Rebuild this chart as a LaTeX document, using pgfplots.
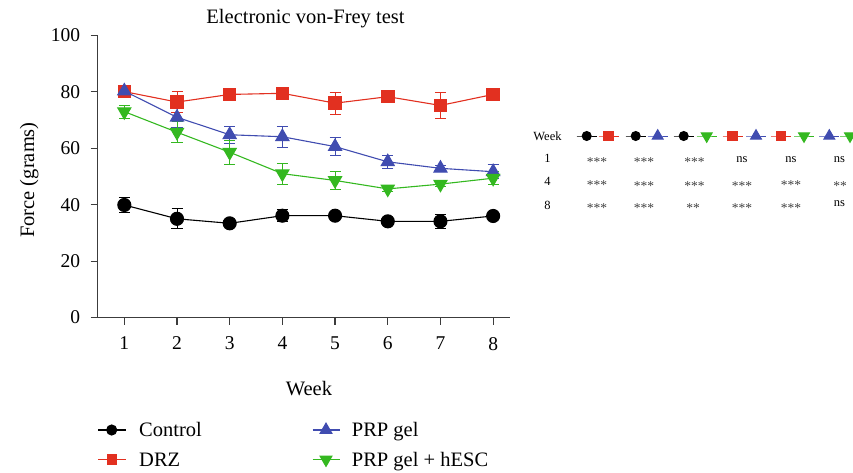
\documentclass[border=0pt]{standalone}
\usepackage{pgfplots}
\pgfplotsset{compat=1.18}
\usepackage{pgfplotstable}
\usepackage{fontspec}
\setmainfont{Liberation Serif}

\definecolor{cRed}{RGB}{226,48,32}
\definecolor{cBlue}{RGB}{64,76,176}
\definecolor{cGreen}{RGB}{52,184,32}
\definecolor{cAxis}{RGB}{60,60,60}

\pgfplotstableread{
x y e
1 39.9 2.5
2 35.0 3.6
3 33.4 0.8
4 36.1 2.2
5 36.1 1.0
6 34.1 0.8
7 34.1 2.4
8 36.0 1.0
}\ctrl
\pgfplotstableread{
x y e
1 80.1 1.0
2 76.4 3.6
3 79.1 1.0
4 79.5 1.0
5 76.0 3.9
6 78.3 1.0
7 75.2 4.6
8 79.1 1.0
}\drz
\pgfplotstableread{
x y e
1 80.3 1.0
2 71.0 3.8
3 64.8 3.0
4 64.1 3.7
5 60.6 3.2
6 55.2 2.4
7 52.9 1.0
8 51.7 2.5
}\prp
\pgfplotstableread{
x y e
1 73.0 2.3
2 65.7 3.8
3 58.6 4.3
4 51.0 3.7
5 48.6 3.1
6 45.6 1.0
7 47.3 1.0
8 49.4 2.4
}\hesc

\pgfplotsset{
  ser/.style={line width=1.1pt, error bars/.cd, y dir=both, y explicit,
    error bar style={line width=1pt},
    error mark options={rotate=90, mark size=5.5pt, line width=1pt}, /pgfplots/.cd},
}
\newcommand{\tf}{\fontsize{12.5}{14}\selectfont}
\newcommand{\st}[1]{\raisebox{-3.5pt}{\fontsize{13.5}{14}\selectfont #1}}

\begin{document}
\begin{tikzpicture}
\useasboundingbox (0,0) rectangle (853pt,472pt);
% overlay axis: labels, legend and comparison table
\begin{axis}[at={(0pt,0pt)}, anchor=south west, scale only axis,
  width=853pt, height=472pt, xmin=0, xmax=853, ymin=0, ymax=472,
  y dir=reverse, hide axis, clip=false]
  % titles
  \node[anchor=base, inner sep=0pt, font=\fontsize{20.5}{22}\selectfont] at (axis cs:305.5,23) {Electronic von-Frey test};
  \node[anchor=base, inner sep=0pt, font=\fontsize{20.5}{22}\selectfont] at (axis cs:309,395) {Week};
  \node[anchor=base, inner sep=0pt, rotate=90, font=\fontsize{20.5}{22}\selectfont] at (axis cs:34,180) {Force (grams)};
  % legend
  \addplot[black, line width=1.1pt, mark=*, mark size=5pt, mark indices={2}] coordinates {(98,430)(111.7,430)(126,430)};
  \addplot[cRed, line width=1.1pt, mark=square*, mark size=4.6pt, mark indices={2}] coordinates {(98,459.5)(111.7,459.5)(126,459.5)};
  \addplot[cBlue, line width=1.1pt, mark=triangle*, mark size=6.8pt, mark indices={2}] coordinates {(312.7,430)(326,430)(340,430)};
  \addplot[cGreen, line width=1.1pt, mark=triangle*, mark size=6.8pt, mark options={rotate=180}, mark indices={2}] coordinates {(312.7,459.5)(326,459.5)(340,459.5)};
  \node[anchor=base west, inner sep=0pt, font=\fontsize{20.5}{22}\selectfont] at (axis cs:139,436.7) {Control};
  \node[anchor=base west, inner sep=0pt, font=\fontsize{20.5}{22}\selectfont] at (axis cs:139,466.7) {DRZ};
  \node[anchor=base west, inner sep=0pt, font=\fontsize{20.5}{22}\selectfont] at (axis cs:351.7,436.7) {PRP gel};
  \node[anchor=base west, inner sep=0pt, font=\fontsize{20.5}{22}\selectfont] at (axis cs:351.7,466.7) {PRP gel + hESC};
  % table header
  \node[anchor=base, inner sep=0pt, font=\tf] at (axis cs:547.5,140) {Week};
  \addplot[black, line width=1pt, mark=*, mark size=4.5pt, mark indices={2}] coordinates {(576.7,136)(586.7,136)(596.7,136)};
  \addplot[cRed, line width=1pt, mark=square*, mark size=4.8pt, mark indices={2}] coordinates {(598.7,136)(608.7,136)(618.7,136)};
  \addplot[black, line width=1pt, mark=*, mark size=4.5pt, mark indices={2}] coordinates {(625.7,136)(635.7,136)(645.7,136)};
  \addplot[cBlue, line width=1pt, mark=triangle*, mark size=6.3pt, mark indices={2}] coordinates {(647.7,136)(657.7,136)(667.7,136)};
  \addplot[black, line width=1pt, mark=*, mark size=4.5pt, mark indices={2}] coordinates {(673.7,136)(683.7,136)(693.7,136)};
  \addplot[cGreen, line width=1pt, mark=triangle*, mark size=6.3pt, mark options={rotate=180}, mark indices={2}] coordinates {(696.7,136)(706.7,136)(716.7,136)};
  \addplot[cRed, line width=1pt, mark=square*, mark size=4.8pt, mark indices={2}] coordinates {(722.7,136)(732.7,136)(742.7,136)};
  \addplot[cBlue, line width=1pt, mark=triangle*, mark size=6.3pt, mark indices={2}] coordinates {(746,136)(756,136)(766,136)};
  \addplot[cRed, line width=1pt, mark=square*, mark size=4.8pt, mark indices={2}] coordinates {(771,136)(781,136)(791,136)};
  \addplot[cGreen, line width=1pt, mark=triangle*, mark size=6.3pt, mark options={rotate=180}, mark indices={2}] coordinates {(794,136)(804,136)(814,136)};
  \addplot[cBlue, line width=1pt, mark=triangle*, mark size=6.3pt, mark indices={2}] coordinates {(819.3,136)(829.3,136)(839.3,136)};
  \addplot[cGreen, line width=1pt, mark=triangle*, mark size=6.3pt, mark options={rotate=180}, mark indices={2}] coordinates {(840,136)(850,136)(860,136)};
  % table rows
  \node[anchor=base, inner sep=0pt, font=\tf] at (axis cs:547.5,162.7) {1};
  \node[anchor=base, inner sep=0pt, font=\tf] at (axis cs:547.5,185.7) {4};
  \node[anchor=base, inner sep=0pt, font=\tf] at (axis cs:547.5,209) {8};
  % row 1
  \node[anchor=base, inner sep=0pt, font=\tf, text=black!75] at (axis cs:597,162.7) {\st{***}};
  \node[anchor=base, inner sep=0pt, font=\tf, text=black!75] at (axis cs:644,162.7) {\st{***}};
  \node[anchor=base, inner sep=0pt, font=\tf, text=black!75] at (axis cs:694.5,162.7) {\st{***}};
  \node[anchor=base, inner sep=0pt, font=\tf] at (axis cs:742,162) {ns};
  \node[anchor=base, inner sep=0pt, font=\tf] at (axis cs:791,162) {ns};
  \node[anchor=base, inner sep=0pt, font=\tf] at (axis cs:839.5,162) {ns};
  % row 4
  \node[anchor=base, inner sep=0pt, font=\tf, text=black!75] at (axis cs:597,185.7) {\st{***}};
  \node[anchor=base, inner sep=0pt, font=\tf, text=black!75] at (axis cs:644,186.5) {\st{***}};
  \node[anchor=base, inner sep=0pt, font=\tf, text=black!75] at (axis cs:694.5,186.5) {\st{***}};
  \node[anchor=base, inner sep=0pt, font=\tf, text=black!75] at (axis cs:742,186.5) {\st{***}};
  \node[anchor=base, inner sep=0pt, font=\tf, text=black!75] at (axis cs:791,185.7) {\st{***}};
  \node[anchor=base, inner sep=0pt, font=\tf, text=black!75] at (axis cs:840,186.5) {\st{**}};
  % row 8
  \node[anchor=base, inner sep=0pt, font=\tf, text=black!75] at (axis cs:597,209) {\st{***}};
  \node[anchor=base, inner sep=0pt, font=\tf, text=black!75] at (axis cs:644,209) {\st{***}};
  \node[anchor=base, inner sep=0pt, font=\tf, text=black!75] at (axis cs:693,209) {\st{**}};
  \node[anchor=base, inner sep=0pt, font=\tf, text=black!75] at (axis cs:742,209) {\st{***}};
  \node[anchor=base, inner sep=0pt, font=\tf, text=black!75] at (axis cs:791,209) {\st{***}};
  \node[anchor=base, inner sep=0pt, font=\tf] at (axis cs:839.5,206) {ns};
\end{axis}
% main axis
\begin{axis}[at={(97.7pt,154.5pt)}, anchor=south west, scale only axis,
  width=412.3pt, height=282pt,
  xmin=0.495, xmax=8.32, ymin=0, ymax=100,
  axis x line*=bottom, axis y line*=left,
  axis line style={line width=1.2pt, draw=cAxis, -},
  xtick={1,...,8}, ytick={0,20,...,100},
  tick align=outside, major tick length=7pt,
  tick style={line width=1.2pt, draw=cAxis},
  tick label style={font=\fontsize{19.5}{20}\selectfont},
  xticklabel style={yshift=-9pt},
  yticklabel style={xshift=-7pt},
  /pgf/number format/assume math mode=true,
  clip=false]
  \addplot[black, ser, mark=*, mark size=6.5pt] table[x=x, y=y, y error=e] {\ctrl};
  \addplot[cRed, ser, mark=square*, mark size=6.2pt] table[x=x, y=y, y error=e] {\drz};
  \addplot[cBlue, ser, mark=triangle*, mark size=7.5pt] table[x=x, y=y, y error=e] {\prp};
  \addplot[cGreen, ser, mark=triangle*, mark size=7.5pt, mark options={rotate=180}] table[x=x, y=y, y error=e] {\hesc};
\end{axis}
\end{tikzpicture}
\end{document}
